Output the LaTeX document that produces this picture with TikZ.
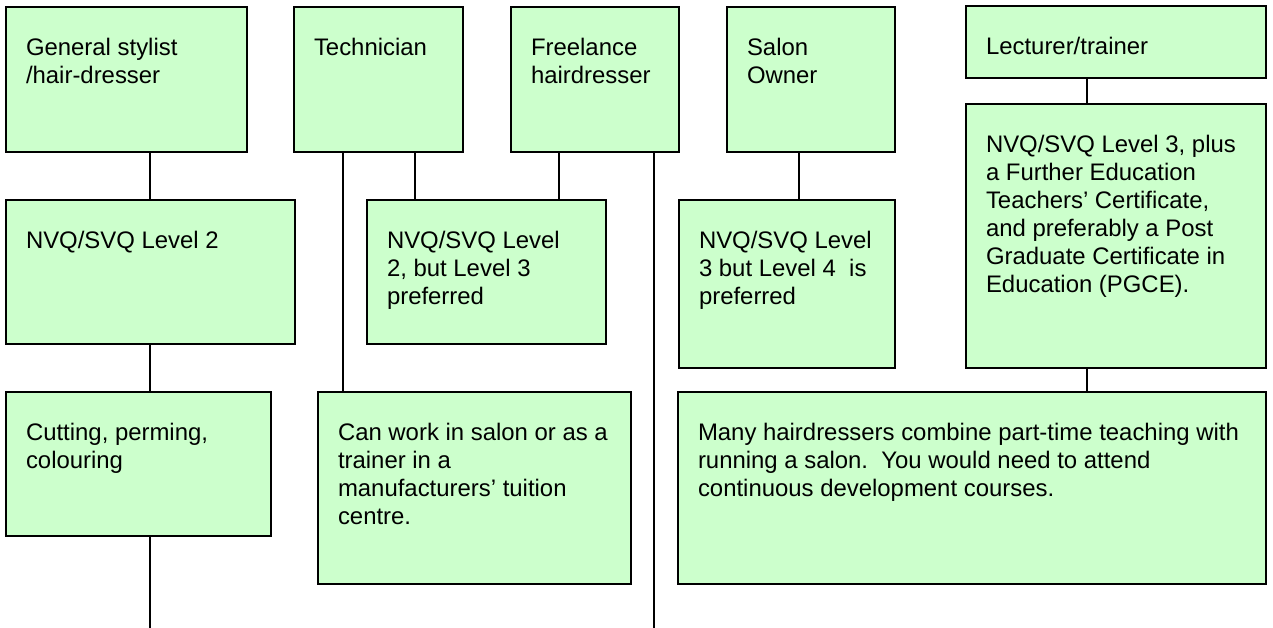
\documentclass[tikz,border=0pt]{standalone}
\usepackage{fontspec}
\setmainfont{Liberation Sans}
\usetikzlibrary{calc}

\definecolor{boxgreen}{HTML}{CCFFCC}
% box contents: width and height in px, text at the top left
\newcommand{\boxtext}[3]{\parbox[c][\dimexpr#2bp/2\relax][t]{\dimexpr#1bp/2\relax}{%
    \raggedright\leftskip=10bp\vspace*{14.5bp}\strut#3}}

\begin{document}
\begin{tikzpicture}[
    x=0.5bp, y=-0.5bp,
    career/.style={rectangle, draw=black, line width=1bp, fill=boxgreen,
                   anchor=north west, inner sep=0pt, outer sep=0pt,
                   font=\fontsize{12}{14}\selectfont},
    link/.style={draw=black, line width=0.7bp}
]
    \useasboundingbox (0,0) rectangle (1273,628);

    % === Row 1: jobs ===
    \node[career] (gen)   at (6,7)    {\boxtext{241}{145}{General stylist\\/hair-dresser}};
    \node[career] (tech)  at (294,7)  {\boxtext{169}{145}{Technician}};
    \node[career] (free)  at (511,7)  {\boxtext{168}{145}{Freelance\\hairdresser}};
    \node[career] (owner) at (727,7)  {\boxtext{168}{145}{Salon\\Owner}};
    \node[career] (lect)  at (966,6)  {\boxtext{300}{72}{Lecturer/trainer}};

    % === Row 2: qualifications ===
    \node[career] (nvqa) at (6,200)   {\boxtext{289}{144}{NVQ/SVQ Level 2}};
    \node[career] (nvqb) at (367,200) {\boxtext{239}{144}{NVQ/SVQ Level\\2, but Level 3\\preferred}};
    \node[career] (nvqc) at (679,200) {\boxtext{216}{168}{NVQ/SVQ Level\\3 but Level 4\ \ is\\preferred}};
    \node[career] (nvqd) at (966,104) {\boxtext{300}{264}{NVQ/SVQ Level 3, plus\\a Further Education\\Teachers’ Certificate,\\and preferably a Post\\Graduate Certificate in\\Education (PGCE).}};

    % === Row 3: notes ===
    \node[career] (cut)  at (6,392)   {\boxtext{265}{144}{Cutting, perming,\\colouring}};
    \node[career] (work) at (318,392) {\boxtext{313}{192}{Can work in salon or as a\\trainer in a\\manufacturers’ tuition\\centre.}};
    \node[career] (many) at (678,392) {\boxtext{588}{192}{Many hairdressers combine part-time teaching with\\running a salon.\ \ You would need to attend\\continuous development courses.}};

    % Connectors
    \foreach \a/\b/\x in {gen/nvqa/150, nvqa/cut/150, tech/work/343, tech/nvqb/415,
                          free/nvqb/559, owner/nvqc/799, lect/nvqd/1087, nvqd/many/1087}
        \draw[link] (\a.south -| \x,0) -- (\b.north -| \x,0);

    \coordinate (endcut) at (150,628);
    \coordinate (endfree) at (654,628);
    \draw[link] (cut.south -| endcut) -- (endcut);
    \draw[link] (free.south -| endfree) -- (endfree);

\end{tikzpicture}
\end{document}
